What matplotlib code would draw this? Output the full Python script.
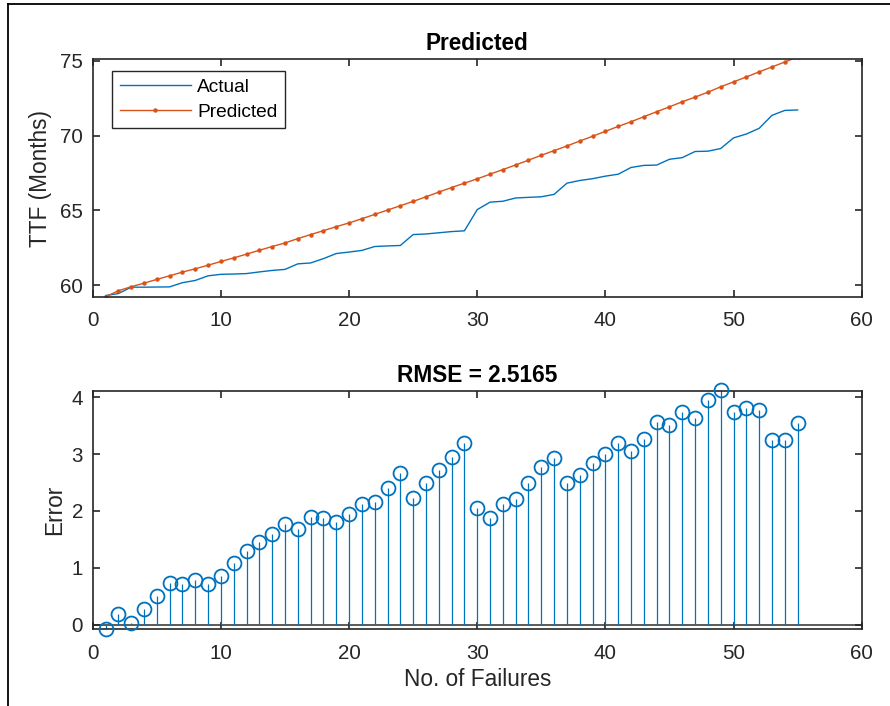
import numpy as np
import matplotlib.pyplot as plt
from matplotlib.lines import Line2D

# failure index (x axis)
failures = list(range(1, 56))

# time to failure
actual_ttf = [59.30, 59.43, 59.86, 59.86, 59.87, 59.88, 60.16, 60.31, 60.62, 60.72,
              60.74, 60.77, 60.88, 60.98, 61.05, 61.42, 61.48, 61.77, 62.11, 62.21,
              62.32, 62.58, 62.62, 62.65, 63.38, 63.42, 63.50, 63.58, 63.63, 65.05,
              65.55, 65.61, 65.83, 65.87, 65.91, 66.07, 66.82, 67.00, 67.12, 67.29,
              67.42, 67.87, 68.01, 68.03, 68.42, 68.53, 68.94, 68.96, 69.14, 69.85,
              70.11, 70.49, 71.36, 71.69, 71.72]

predicted_ttf = [59.22, 59.62, 59.89, 60.13, 60.38, 60.62, 60.87, 61.09, 61.33, 61.58,
                 61.82, 62.07, 62.33, 62.58, 62.82, 63.11, 63.38, 63.64, 63.91, 64.16,
                 64.44, 64.73, 65.02, 65.31, 65.60, 65.91, 66.22, 66.53, 66.82, 67.11,
                 67.42, 67.73, 68.04, 68.36, 68.69, 69.00, 69.31, 69.64, 69.96, 70.29,
                 70.62, 70.93, 71.27, 71.60, 71.93, 72.27, 72.58, 72.91, 73.27, 73.60,
                 73.93, 74.27, 74.60, 74.93, 75.27]

# prediction error
error = [-0.08, 0.19, 0.03, 0.27, 0.51, 0.74, 0.71, 0.78, 0.71, 0.86,
         1.08, 1.30, 1.45, 1.60, 1.77, 1.69, 1.90, 1.87, 1.80, 1.95,
         2.12, 2.15, 2.40, 2.66, 2.22, 2.49, 2.72, 2.95, 3.19, 2.06,
         1.87, 2.12, 2.21, 2.49, 2.78, 2.93, 2.49, 2.64, 2.84, 3.00,
         3.20, 3.06, 3.26, 3.57, 3.51, 3.74, 3.64, 3.95, 4.12, 3.75,
         3.82, 3.78, 3.24, 3.24, 3.55]

rmse_title = "RMSE = 2.5165"

BLUE = "#0072BD"
ORANGE = "#D95319"
DARK = "#262626"

plt.rcParams["font.family"] = ["Liberation Sans", "DejaVu Sans"]


def style_axes(ax):
    """MATLAB-like box with inward ticks on every side"""
    for side in ax.spines.values():
        side.set_linewidth(1.2)
        side.set_color(DARK)
    ax.tick_params(direction="in", top=True, right=True, length=5, width=1.2,
                   colors=DARK, labelsize=14.8)
    ax.tick_params(axis="x", pad=10.5)
    ax.tick_params(axis="y", pad=7)
    ax.set_xlim(0, 60)
    ax.set_xticks(np.arange(0, 61, 10))


def plot_ttf(ax):
    ax.plot(failures, actual_ttf, color=BLUE, lw=1.0, label="Actual")
    ax.plot(failures, predicted_ttf, color=ORANGE, lw=1.0, marker="o",
            ms=3.2, mew=0, label="Predicted")
    style_axes(ax)
    ax.set_ylim(59.22, 75.11)
    ax.set_yticks([60, 65, 70, 75])
    ax.set_title("Predicted", fontsize=16.3, fontweight="bold", pad=6.5)
    ax.set_ylabel("TTF (Months)", fontsize=16.3, color=DARK, va="center")
    ax.yaxis.set_label_coords(-0.0685, 0.5)
    leg = ax.legend(loc="upper left", bbox_to_anchor=(0.025, 0.951),
                    borderaxespad=0, fontsize=13.8, handlelength=3.7,
                    handletextpad=0.35, labelspacing=0.38, borderpad=0.4,
                    fancybox=False, framealpha=1)
    leg.get_frame().set_edgecolor(DARK)
    leg.get_frame().set_linewidth(1.0)


def plot_error(ax):
    ax.axhline(0, color="#404040", lw=1.2, zorder=1)
    markers, stems, base = ax.stem(failures, error, basefmt=" ")
    plt.setp(stems, color=BLUE, lw=0.9)
    markers.set_color(BLUE)
    markers.set_markerfacecolor("none")
    markers.set_markersize(10)
    markers.set_markeredgewidth(1.3)
    markers.set_clip_on(False)
    markers.set_zorder(5)
    style_axes(ax)
    ax.set_ylim(-0.084, 4.11)
    ax.set_yticks([0, 1, 2, 3, 4])
    ax.set_title(rmse_title, fontsize=16.3, fontweight="bold", pad=6.5)
    ax.set_ylabel("Error", fontsize=16.3, color=DARK, va="center")
    ax.yaxis.set_label_coords(-0.049, 0.5)
    ax.set_xlabel("No. of Failures", fontsize=16.3, color=DARK, va="center")
    ax.xaxis.set_label_coords(0.5, -0.2086)


fig = plt.figure(figsize=(8.9, 7.06), dpi=100)
ax_top = fig.add_axes([0.1042, 0.5797, 0.8640, 0.3363])
ax_bot = fig.add_axes([0.1042, 0.1086, 0.8640, 0.3375])
plot_ttf(ax_top)
plot_error(ax_bot)

# frame around the figure (only top and left edges are inside the picture)
fig.add_artist(Line2D([8 / 890, 8 / 890], [0, 1 - 4 / 706],
                      color="black", lw=1.3, transform=fig.transFigure))
fig.add_artist(Line2D([8 / 890, 1], [1 - 4 / 706, 1 - 4 / 706],
                      color="black", lw=1.3, transform=fig.transFigure))

fig.savefig("out.png", dpi=100)
